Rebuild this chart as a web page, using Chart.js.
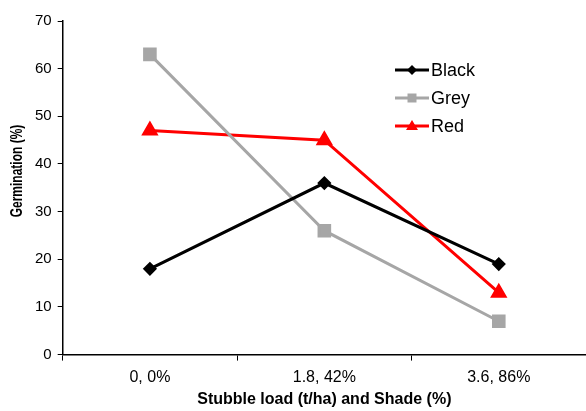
<!DOCTYPE html>
<html>
<head>
<meta charset="utf-8">
<script src="https://cdn.jsdelivr.net/npm/chart.js@4/dist/chart.umd.min.js"></script>
<style>
  html, body { margin: 0; padding: 0; background: #fff; overflow: hidden; }
  canvas { display: block; }
</style>
</head>
<body>
<canvas id="graph" width="586" height="411"></canvas>
<script>
// Categories and series
let categories = ["0, 0%", "1.8, 42%", "3.6, 86%"];
let black = [18, 36, 19];
let grey = [63, 26, 7];
let red = [47, 45, 13];
let yTicks = [0, 10, 20, 30, 40, 50, 60, 70];

let font = "'Liberation Sans', Arial, sans-serif";

// Draws the legend as line + marker like the original, and the y title
let extras = {
    id: "extras",
    afterDraw(chart) {
        let ctx = chart.ctx;
        let x0 = 395, x1 = 429, y = 70, gap = 28;
        chart.data.datasets.forEach(function (ds, i) {
            let yy = y + i * gap;
            ctx.save();
            ctx.strokeStyle = ds.borderColor;
            ctx.lineWidth = 3;
            ctx.beginPath();
            ctx.moveTo(x0, yy);
            ctx.lineTo(x1, yy);
            ctx.stroke();
            ctx.fillStyle = ds.pointBackgroundColor;
            let cx = (x0 + x1) / 2;
            ctx.beginPath();
            if (ds.pointStyle === "rectRot") {
                ctx.moveTo(cx, yy - 5);
                ctx.lineTo(cx + 5, yy);
                ctx.lineTo(cx, yy + 5);
                ctx.lineTo(cx - 5, yy);
            } else if (ds.pointStyle === "rect") {
                ctx.rect(cx - 4.5, yy - 4.5, 9, 9);
            } else {
                ctx.moveTo(cx, yy - 6);
                ctx.lineTo(cx + 6, yy + 4);
                ctx.lineTo(cx - 6, yy + 4);
            }
            ctx.closePath();
            ctx.fill();
            ctx.fillStyle = "#000";
            ctx.font = "18px " + font;
            ctx.textBaseline = "middle";
            ctx.fillText(ds.label, 431, yy + 1);
            ctx.restore();
        });

        // y axis title (slightly widened like the picture)
        ctx.save();
        ctx.translate(18, 171);
        ctx.rotate(-Math.PI / 2);
        ctx.scale(1, 1.3);
        ctx.fillStyle = "#000";
        ctx.font = "bold 12px " + font;
        ctx.textAlign = "center";
        ctx.textBaseline = "middle";
        ctx.fillText("Germination (%)", 0, 0);
        ctx.restore();
    }
};

let ctx = document.getElementById("graph");
let chart = new Chart(ctx, {
    type: "line",
    data: {
        labels: categories,
        datasets: [{
            label: "Black",
            data: black,
            borderColor: "#000000",
            pointBackgroundColor: "#000000",
            pointBorderColor: "#000000",
            pointStyle: "rectRot",
            pointRadius: 5,
            borderWidth: 3
        }, {
            label: "Grey",
            data: grey,
            borderColor: "#a6a6a6",
            pointBackgroundColor: "#a6a6a6",
            pointBorderColor: "#a6a6a6",
            pointStyle: "rect",
            pointRadius: 7.5,
            borderWidth: 3
        }, {
            label: "Red",
            data: red,
            borderColor: "#ff0000",
            pointBackgroundColor: "#ff0000",
            pointBorderColor: "#ff0000",
            pointStyle: "triangle",
            pointRadius: 7,
            borderWidth: 3
        }]
    },
    options: {
        responsive: false,
        animation: false,
        layout: { autoPadding: false, padding: { top: 21, right: 0, left: 29, bottom: 0 } },
        plugins: {
            legend: { display: false },
            tooltip: { enabled: false }
        },
        scales: {
            x: {
                offset: true,
                afterFit(scale) {
                    scale.paddingRight = 0;
                },
                grid: {
                    offset: true,
                    drawOnChartArea: false,
                    drawTicks: true,
                    tickLength: 6,
                    color: "#000"
                },
                border: { color: "#000", width: 1.5 },
                ticks: {
                    color: "#000",
                    font: { family: font, size: 16 },
                    padding: 7
                },
                title: {
                    display: true,
                    text: "Stubble load (t/ha) and Shade (%)",
                    color: "#000",
                    font: { family: font, size: 16, weight: "bold" },
                    padding: { top: -4, bottom: 2 }
                }
            },
            y: {
                min: 0,
                max: 70,
                afterBuildTicks(axis) {
                    axis.ticks = yTicks.map(function (v) { return { value: v }; });
                },
                grid: {
                    drawOnChartArea: false,
                    drawTicks: true,
                    tickLength: 5,
                    color: "#000"
                },
                border: { color: "#000", width: 1.5 },
                ticks: {
                    color: "#000",
                    font: { family: font, size: 15 },
                    padding: 6
                }
            }
        }
    },
    plugins: [extras]
});
</script>
</body>
</html>
